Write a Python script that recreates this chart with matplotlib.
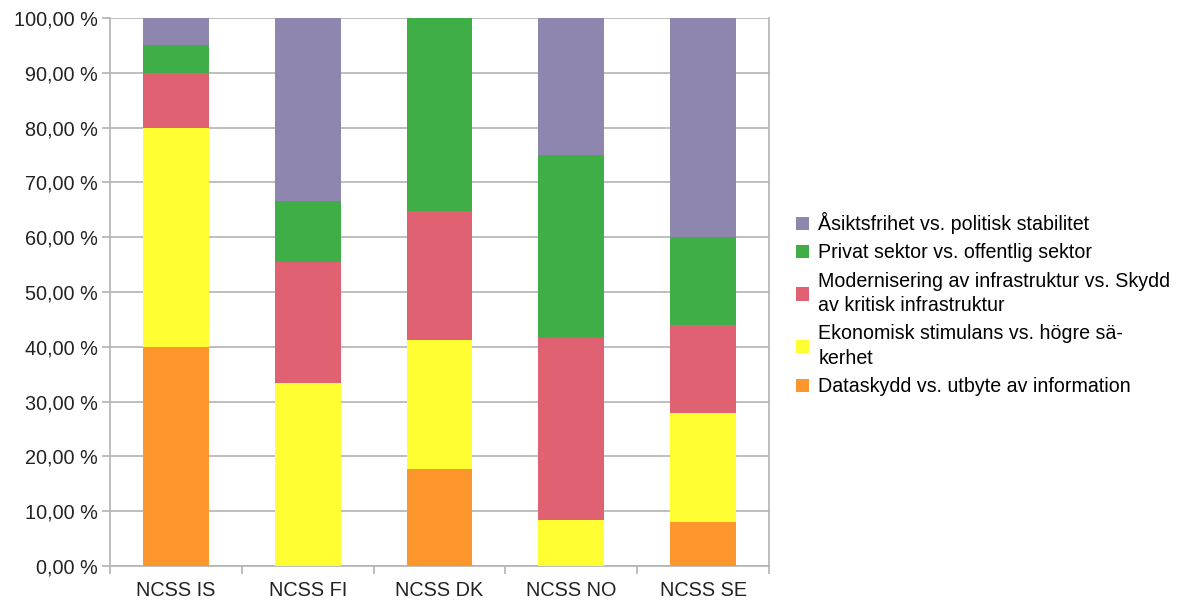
import matplotlib.pyplot as plt
from matplotlib.ticker import FuncFormatter, FixedLocator
import numpy as np

plt.rcParams['font.family'] = ['Liberation Sans', 'DejaVu Sans']

kategorier = ['NCSS IS', 'NCSS FI', 'NCSS DK', 'NCSS NO', 'NCSS SE']

# andel (%) per konflikt, nerifrån och upp i staplarna
dataskydd = [40.0, 0.0, 17.65, 0.0, 8.0]
ekonomi = [40.0, 33.33, 23.53, 8.33, 20.0]
modernisering = [10.0, 22.22, 23.53, 33.33, 16.0]
privat = [5.0, 11.11, 35.29, 33.33, 16.0]
asikt = [5.0, 33.33, 0.0, 25.0, 40.0]

serier = [
    ('Dataskydd vs. utbyte av information', dataskydd, '#fe962e'),
    ('Ekonomisk stimulans vs. högre sä-\nkerhet', ekonomi, '#fefe33'),
    ('Modernisering av infrastruktur vs. Skydd\nav kritisk infrastruktur', modernisering, '#e06272'),
    ('Privat sektor vs. offentlig sektor', privat, '#40ae47'),
    ('Åsiktsfrihet vs. politisk stabilitet', asikt, '#8e86ae'),
]

fig = plt.figure(figsize=(11.88, 6.02), dpi=100)
ax = fig.add_axes([110 / 1188, 36 / 602, 659 / 1188, 548 / 602])

x = np.arange(len(kategorier))
botten = np.zeros(len(kategorier))
handtag = []
for namn, varden, farg in serier:
    b = ax.bar(x, varden, width=0.5, bottom=botten, color=farg, label=namn, zorder=3)
    botten += np.array(varden)
    handtag.append(b)

ax.set_xlim(-0.5, len(kategorier) - 0.5)
ax.set_ylim(0, 100)
ax.set_yticks(np.arange(0, 101, 10))
ax.yaxis.set_major_formatter(FuncFormatter(lambda v, p: f'{v:.2f} %'.replace('.', ',')))
ax.grid(axis='y', color='#b3b3b3', linewidth=1.2, zorder=0)

ax.set_xticks(x)
ax.set_xticklabels(kategorier)
ax.xaxis.set_minor_locator(FixedLocator(np.arange(-0.5, len(kategorier), 1.0)))
ax.tick_params(axis='x', which='major', length=0, pad=11, labelsize=14.3, colors='#222222')
ax.tick_params(axis='x', which='minor', length=6, width=1.2, color='#b3b3b3')
ax.tick_params(axis='y', length=6, width=1.2, color='#b3b3b3', labelsize=14.3, labelcolor='#222222', pad=3)

for side in ['left', 'right', 'bottom']:
    ax.spines[side].set_color('#b3b3b3')
    ax.spines[side].set_linewidth(1.2)
ax.spines['top'].set_visible(False)

leg = fig.legend(handtag[::-1], [s[0] for s in serier][::-1],
                 loc='center left', bbox_to_anchor=(788 / 1188, 298 / 602),
                 frameon=False, fontsize=14.1, handlelength=0.65, handleheight=0.65,
                 handletextpad=0.5, labelspacing=0.48, borderaxespad=0)
for t in leg.get_texts():
    t.set_linespacing(1.35)

fig.savefig('out.png', dpi=100)
